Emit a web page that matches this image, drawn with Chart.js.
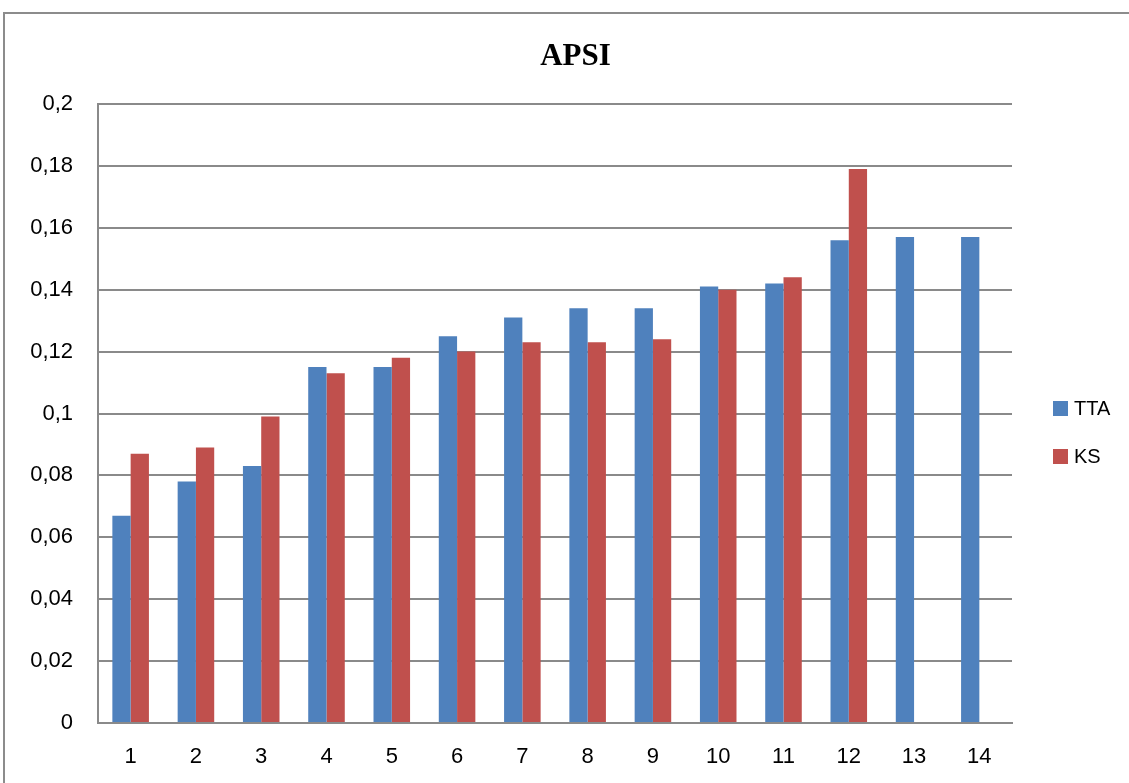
<!DOCTYPE html>
<html>
<head>
<meta charset="utf-8">
<script src="https://cdn.jsdelivr.net/npm/chart.js@4"></script>
<style>
  html, body { margin: 0; padding: 0; background: #fff; overflow: hidden; }
  #wrap { width: 1129px; height: 783px; position: relative; }
</style>
</head>
<body>
<div id="wrap"><canvas id="apsiChart" width="1129" height="783"></canvas></div>
<script>
const chartTitle = "APSI";
const categories = ["1", "2", "3", "4", "5", "6", "7", "8", "9", "10", "11", "12", "13", "14"];
const ttaValues = [0.067, 0.078, 0.083, 0.115, 0.115, 0.125, 0.131, 0.134, 0.134, 0.141, 0.142, 0.156, 0.157, 0.157];
const ksValues = [0.087, 0.089, 0.099, 0.113, 0.118, 0.120, 0.123, 0.123, 0.124, 0.140, 0.144, 0.179, null, null];
const seriesNames = ["TTA", "KS"];
const seriesColors = ["#4F81BD", "#C0504D"];

const gridColor = "#8a8a8a";
const sansFamily = "'Liberation Sans', Arial, sans-serif";
const tickFont = { family: sansFamily, size: 22 };

// comma as decimal separator
const formatTick = (value) => {
  return Number(value.toFixed(2)).toString().replace(".", ",");
};

// outer frame around the chart
const framePlugin = {
  id: "frame",
  beforeDraw: (chart) => {
    const ctx = chart.ctx;
    ctx.save();
    ctx.strokeStyle = "#8c8c8c";
    ctx.lineWidth = 2;
    ctx.strokeRect(4, 13, chart.width + 20, chart.height + 20);
    ctx.restore();
  },
};

// title centred on the frame, not on the plot
const topTitle = {
  id: "topTitle",
  afterDraw: (chart) => {
    const ctx = chart.ctx;
    ctx.save();
    ctx.font = "bold 31px 'Liberation Serif', 'Times New Roman', serif";
    ctx.fillStyle = "#000";
    ctx.textAlign = "center";
    ctx.textBaseline = "alphabetic";
    ctx.fillText(chartTitle, (chart.width + 22) / 2, 65);
    ctx.restore();
  },
};

// legend on the right, as in the original
const sideLegend = {
  id: "sideLegend",
  afterDraw: (chart) => {
    const ctx = chart.ctx;
    const area = chart.chartArea;
    const midY = (area.top + area.bottom) / 2 + 19;
    ctx.save();
    ctx.font = "20px " + sansFamily;
    ctx.textBaseline = "middle";
    chart.data.datasets.forEach((ds, i) => {
      const y = midY - 24 + i * 48;
      ctx.fillStyle = ds.backgroundColor;
      ctx.fillRect(area.right + 41, y - 7.5, 15, 15);
      ctx.fillStyle = "#000";
      ctx.fillText(ds.label, area.right + 62, y + 1);
    });
    ctx.restore();
  },
};

const chartApsi = new Chart(document.getElementById("apsiChart"), {
  type: "bar",
  data: {
    labels: categories,
    datasets: [
      {
        label: seriesNames[0],
        data: ttaValues,
        backgroundColor: seriesColors[0],
        categoryPercentage: 0.56,
        barPercentage: 1.0,
      },
      {
        label: seriesNames[1],
        data: ksValues,
        backgroundColor: seriesColors[1],
        categoryPercentage: 0.56,
        barPercentage: 1.0,
      },
    ],
  },
  options: {
    responsive: false,
    animation: false,
    layout: { padding: { left: 0, right: 117, top: 104, bottom: 0 } },
    plugins: {
      legend: { display: false },
      tooltip: { enabled: false },
      title: { display: false },
    },
    scales: {
      x: {
        grid: { display: false },
        border: { display: true, color: gridColor, width: 2 },
        ticks: { color: "#000", font: tickFont, padding: 13 },
        afterFit: (scale) => {
          scale.height = 60;
        },
      },
      y: {
        min: 0,
        max: 0.2,
        ticks: {
          stepSize: 0.02,
          color: "#000",
          font: tickFont,
          padding: 25,
          callback: (value) => formatTick(value),
        },
        grid: { color: gridColor, lineWidth: 2, drawTicks: false },
        border: { display: true, color: gridColor, width: 2 },
        afterFit: (scale) => {
          scale.width = 98;
        },
      },
    },
  },
  plugins: [framePlugin, topTitle, sideLegend],
});
</script>
</body>
</html>
